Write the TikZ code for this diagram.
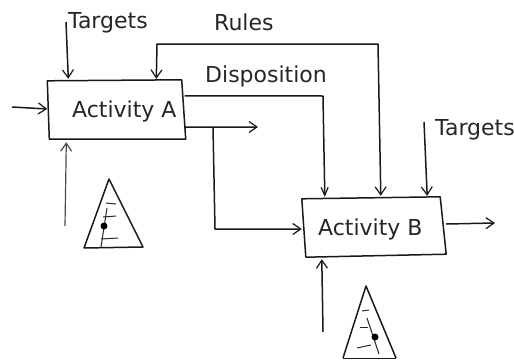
\documentclass[tikz,border=0pt]{standalone}
\usepackage{fontspec}
\setmainfont{DejaVu Sans}
\usetikzlibrary{arrows.meta,calc}
\tikzset{
 lbl/.style={inner sep=0pt,font=\fontsize{22pt}{24pt}\selectfont,text=black!85},
 boxnode/.style={inner sep=0pt,minimum width=136pt,minimum height=58pt},
 sketch/.style={line width=1.5pt,black!90,line join=round},
 barb/.tip={Straight Barb[length=8pt,width=11pt,line width=1.2pt]},
 conn/.style={sketch,-barb},
 both conn/.style={sketch,barb-barb},
 thin conn/.style={conn,line width=1.2pt,black!70},
 tick/.style={line width=1pt,black!85},
 dotmark/.style={circle,fill=black,inner sep=0pt,minimum size=7pt}
}
\begin{document}
\begin{tikzpicture}[x=1pt,y=-1pt]
\useasboundingbox (0,0) rectangle (514,359);
% activity boxes
\node[boxnode] (A) at (116.5,110) {};
\node[boxnode] (B) at (374,227) {};
\draw[sketch] ($(A.north west)+(-1,0)$) -- ($(A.north east)+(-3,-1)$) -- ($(A.south east)+(1,0)$) -- ($(A.south west)+(1,0)$) -- cycle;
\draw[sketch] ($(B.north west)+(-4,1)$) -- ($(B.north east)+(-2,-1)$) -- ($(B.south east)+(4,-2)$) -- ($(B.south west)+(0,1)$) -- cycle;
% labels
\node[lbl,anchor=west] (tA) at (68,23) {Targets};
\node[lbl,anchor=west] (rules) at (214,22) {Rules};
\node[lbl,anchor=west] (disp) at (205,76) {Disposition};
\node[lbl,anchor=west] (aA) at (72,111) {Activity A};
\node[lbl,anchor=west] (aB) at (318,229) {Activity B};
\node[lbl,anchor=west] (tB) at (435,130) {Targets};
% free ends
\coordinate (c1) at (66,22);
\coordinate (c2) at (12,107);
\coordinate (c3) at (65,226);
\coordinate (c4) at (258,127);
\coordinate (c5) at (424,122);
\coordinate (c6) at (495,223);
\coordinate (c7) at (323,332);
% connectors
\draw[conn] (c1) -- ($(A.north west)+(20,-2)$);
\draw[conn] (c2) -- ($(A.west)+(-1,-1)$);
\draw[thin conn] (c3) -- ($(A.south west)+(18,3)$);
\draw[sketch,-{Straight Barb[length=8pt,width=7pt,line width=1.2pt]}] ($(A.north east)+(0,15)$) -- (323,96) -- ($(B.north west)+(19,-1)$);
\draw[both conn] ($(B.north west)+(75,-2)$) -- (378,44) -- (157,44) -- ($(A.north west)+(108,-2)$);
\draw[conn] ($(A.south east)+(0,-12)$) -- (c4);
\draw[conn] (213,127) -- (215,229) -- ($(B.west)+(-4,2)$);
\draw[conn] (c5) -- ($(B.north east)+(-15,-2)$);
\draw[conn] ($(B.east)+(4,-3)$) -- (c6);
\draw[conn] (c7) -- ($(B.south west)+(16,3)$);
% pyramid A
\draw[sketch] (109,179) -- (143,247) -- (84,248) -- cycle;
\draw[tick] (106,203) -- (116,204);
\draw[tick] (103,217) -- (116,216);
\draw[tick] (101,239) -- (118,238);
\draw[tick] (107,208) -- (101,247);
\node[dotmark] (dA) at (104,226) {};
% pyramid B
\draw[sketch] (343,358) -- (366,286) -- (396,358);
\draw[sketch] (343,358.5) -- (396,358.5);
\draw[tick] (362,311) -- (369,310);
\draw[tick] (360,327) -- (368,327);
\draw[tick] (357,348) -- (371,345);
\draw[tick] (367,318) -- (379,354);
\node[dotmark] (dB) at (375,337) {};
\end{tikzpicture}
\end{document}
